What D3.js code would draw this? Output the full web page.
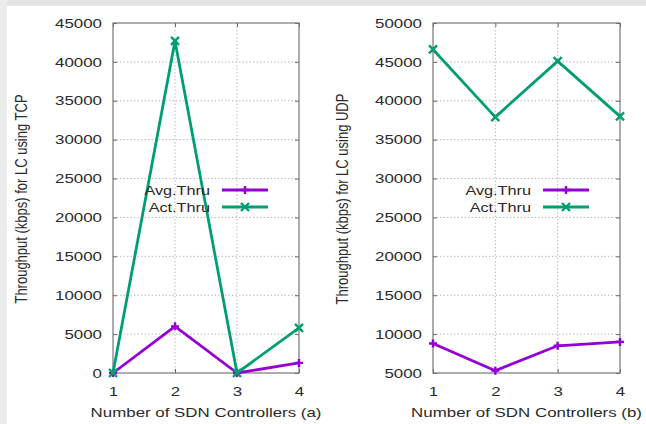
<!DOCTYPE html>
<html lang="en">
<head>
<meta charset="utf-8">
<script src="https://cdn.jsdelivr.net/npm/d3@7"></script>
<style>
    body { margin: 0; background: #fff; }
    text { font-family: "Liberation Sans", Arial, sans-serif; fill: #2a2a2a; }
</style>
</head>
<body>
<svg id="chart" width="646" height="424"></svg>
<script>
    // data
    var controllers = [1, 2, 3, 4];
    var tcpAvg = [0, 6000, 0, 1300];
    var tcpAct = [0, 42700, 0, 5800];
    var udpAvg = [8800, 5300, 8500, 9000];
    var udpAct = [46600, 37900, 45100, 38000];
    var tcpTicks = [0, 5000, 10000, 15000, 20000, 25000, 30000, 35000, 40000, 45000];
    var udpTicks = [5000, 10000, 15000, 20000, 25000, 30000, 35000, 40000, 45000, 50000];
    var seriesNames = ["Avg.Thru", "Act.Thru"];
    var colors = ["#9400d3", "#009e73"];

    var svg = d3.select("#chart");

    /*
    faded background of the scan
     */
    svg.append("rect").attr("x", 0).attr("y", 0).attr("width", 646).attr("height", 6)
        .style("fill", "#e4e4e4");
    svg.append("rect").attr("x", 0).attr("y", 0).attr("width", 7).attr("height", 424)
        .style("fill", "#ececec");

    // the scan is stretched sideways, so widen the glyphs
    function stretch(sel, k){
        sel.each(function(){
            var t = d3.select(this);
            var tx = +t.attr("x") || 0, ty = +t.attr("y") || 0;
            t.attr("x", 0).attr("y", 0)
                .attr("transform", "translate(" + tx + "," + ty + ") scale(" + k + ",1)");
        });
    }

    function drawPanel(opt){
        var x = d3.scaleLinear().domain([1, 4]).range([opt.left, opt.right]);
        var y = d3.scaleLinear().domain(opt.domain).range([373, 23]);
        var g = svg.append("g");

        // grid
        g.selectAll(".gy").data(opt.ticks.slice(1, -1)).enter().append("line")
            .attr("x1", opt.left).attr("x2", opt.right)
            .attr("y1", function(d){ return y(d); }).attr("y2", function(d){ return y(d); })
            .style("stroke", "#bbb").style("stroke-dasharray", "1.5,2");
        g.selectAll(".gx").data(controllers.slice(1, -1)).enter().append("line")
            .attr("y1", 23).attr("y2", 373)
            .attr("x1", function(d){ return x(d); }).attr("x2", function(d){ return x(d); })
            .style("stroke", "#bbb").style("stroke-dasharray", "1.5,2");

        // axes
        var ya = g.append("g").attr("transform", "translate(" + opt.left + ",0)")
            .call(d3.axisLeft(y).tickValues(opt.ticks).tickSize(-4).tickPadding(11).tickFormat(d3.format("d")));
        var ya2 = g.append("g").attr("transform", "translate(" + opt.right + ",0)")
            .call(d3.axisRight(y).tickValues(opt.ticks).tickSize(-4).tickFormat(""));
        var xa = g.append("g").attr("transform", "translate(0,373)")
            .call(d3.axisBottom(x).tickValues(controllers).tickSize(-4).tickPadding(14).tickFormat(d3.format("d")));
        var xa2 = g.append("g").attr("transform", "translate(0,23)")
            .call(d3.axisTop(x).tickValues(controllers).tickSize(-4).tickFormat(""));
        [ya, ya2, xa, xa2].forEach(function(a){
            a.select(".domain").remove();
            a.selectAll("line").style("stroke", "#666");
            a.selectAll("text").style("font-size", "13px").style("fill", "#2a2a2a")
                .attr("font-family", null);
            stretch(a.selectAll("text"), 1.3);
        });
        g.append("rect").attr("x", opt.left).attr("y", 23)
            .attr("width", opt.right - opt.left).attr("height", 350)
            .style("fill", "none").style("stroke", "#777").style("stroke-width", 1.2);

        // titles
        var xt = g.append("text").attr("x", (opt.left + opt.right) / 2).attr("y", 417)
            .attr("text-anchor", "middle").style("font-size", "13px").text(opt.xTitle);
        stretch(xt, 1.3);
        g.append("text").attr("transform", "translate(" + opt.yTitleX + ",199) rotate(-90) scale(1,1.3)")
            .attr("text-anchor", "middle").style("font-size", "13px")
            .text(opt.yTitle);

        // series
        var line = d3.line().x(function(d, i){ return x(controllers[i]); }).y(function(d){ return y(d); });
        [opt.avg, opt.act].forEach(function(vals, k){
            g.append("path").datum(vals).attr("d", line)
                .style("fill", "none").style("stroke", colors[k]).style("stroke-width", 2.8)
                .style("stroke-linejoin", "round");
            g.selectAll(".m" + k).data(vals).enter().append("path")
                .attr("d", function(d, i){ return marker(k, x(controllers[i]), y(d)); })
                .style("fill", "none").style("stroke", colors[k]).style("stroke-width", 2.4);
        });

        // legend
        seriesNames.forEach(function(n, k){
            var ly = 190 + k * 17;
            var lt = g.append("text").attr("x", opt.legX).attr("y", ly + 5)
                .attr("text-anchor", "end").style("font-size", "13px").text(n);
            stretch(lt, 1.25);
            g.append("line").attr("x1", opt.legX + 12).attr("x2", opt.legX + 58)
                .attr("y1", ly).attr("y2", ly)
                .style("stroke", colors[k]).style("stroke-width", 2.8);
            g.append("path").attr("d", marker(k, opt.legX + 35, ly))
                .style("fill", "none").style("stroke", colors[k]).style("stroke-width", 2.4);
        });
    }

    function marker(k, cx, cy){
        var s = 4;
        if (k === 0) {
            return "M" + (cx - s) + "," + cy + "H" + (cx + s) + "M" + cx + "," + (cy - s) + "V" + (cy + s);
        }
        return "M" + (cx - s) + "," + (cy - s) + "L" + (cx + s) + "," + (cy + s)
            + "M" + (cx - s) + "," + (cy + s) + "L" + (cx + s) + "," + (cy - s);
    }

    drawPanel({
        left: 113, right: 299, domain: [0, 45000], ticks: tcpTicks,
        avg: tcpAvg, act: tcpAct, legX: 210, yTitleX: 27,
        xTitle: "Number of SDN Controllers (a)",
        yTitle: "Throughput (kbps) for LC using TCP"
    });
    drawPanel({
        left: 433, right: 620, domain: [5000, 50000], ticks: udpTicks,
        avg: udpAvg, act: udpAct, legX: 531, yTitleX: 348,
        xTitle: "Number of SDN Controllers (b)",
        yTitle: "Throughput (kbps) for LC using UDP"
    });
</script>
</body>
</html>
